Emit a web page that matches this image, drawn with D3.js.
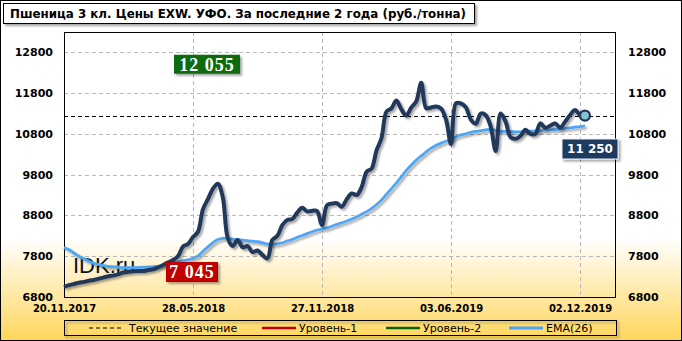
<!DOCTYPE html>
<html><head><meta charset="utf-8">
<script src="https://cdn.jsdelivr.net/npm/d3@7"></script>
<style>html,body{margin:0;padding:0;background:#fff}svg{display:block}</style>
</head><body>
<svg id="chart" width="682" height="341"></svg>
<script>
const title = "Пшеница 3 кл. Цены EXW. УФО. За последние 2 года (руб./тонна)";
const dateLabels = ["20.11.2017","28.05.2018","27.11.2018","03.06.2019","02.12.2019"];
const dateIndex = [0,26,52,78,104];
const yTicks = [6800,7800,8800,9800,10800,11800,12800];
const price = [7045,7090,7120,7150,7170,7200,7217,7250,7280,7310,7330,7360,7400,7420,7430,7440,7437,7460,7480,7530,
7585,7650,7707,7805,8040,8100,8270,8400,8950,9200,9450,9580,9250,8250,8050,8200,8020,8050,7900,7940,
7830,7745,8200,8300,8560,8690,8710,8870,8990,8900,8917,8910,8560,9050,9090,9100,9015,9200,9340,9300,
9500,9874,9950,10400,10700,11350,11430,11620,11400,11250,11450,11600,12055,11430,11450,11470,11420,11150,10550,11550,
11550,11450,11150,11050,11300,11260,10980,10380,11300,11100,10720,10680,10750,10900,10800,10800,11059,10950,11000,11059,
10950,11100,11264,11386,11264,11250];
const ema = [8010,7960,7880,7800,7740,7680,7625,7595,7570,7550,7540,7530,7522,7520,7522,7526,7530,7538,7546,7556,
7575,7605,7640,7665,7690,7712,7750,7810,7920,8030,8130,8210,8240,8232,8222,8205,8195,8180,8168,8155,
8130,8100,8095,8105,8130,8175,8215,8265,8310,8355,8400,8443,8470,8497,8535,8580,8620,8665,8715,8770,
8830,8893,8975,9070,9180,9320,9460,9600,9750,9905,10040,10160,10260,10360,10450,10520,10575,10620,10660,10730,
10775,10800,10840,10860,10880,10900,10910,10890,10870,10860,10855,10850,10852,10860,10865,10872,10880,10890,10900,10908,
10920,10935,10950,10965,10980,10995];
const level1 = 7045, level2 = 12055, current = 11250;
const legendItems = ["Текущее значение","Уровень-1","Уровень-2","EMA(26)"];

const svg = d3.select("#chart");
const W = 682, H = 341;
const P = {l:64, r:615, t:32, b:297};
const navy = "#22395a", blue = "#4ea6f5", green = "#056405", red = "#c00000";

const defs = svg.append("defs");
const bg = defs.append("linearGradient").attr("id","bg").attr("x1",0).attr("y1",0).attr("x2",0).attr("y2",1);
bg.append("stop").attr("offset","0").attr("stop-color","#ffffff");
bg.append("stop").attr("offset","0.7").attr("stop-color","#ffffff");
bg.append("stop").attr("offset","1").attr("stop-color","#ffd65c");
const sh = defs.append("filter").attr("id","sh").attr("x","-10%").attr("y","-20%").attr("width","130%").attr("height","160%");
sh.append("feDropShadow").attr("dx",2).attr("dy",2).attr("stdDeviation",1.2).attr("flood-color","#000").attr("flood-opacity",0.35);

svg.append("rect").attr("x",0.5).attr("y",0.5).attr("width",W-1).attr("height",H-1)
  .attr("fill","url(#bg)").attr("stroke","#000");

const x = d3.scaleLinear().domain([0,104]).range([64,580]);
const y = d3.scaleLinear().domain([6800,13300]).range([P.b,P.t]);

// grid
const grid = svg.append("g").attr("stroke","#b8b8b8").attr("stroke-dasharray","4,3").attr("stroke-width",1);
yTicks.filter(v=>v>6800).forEach(v=>{
  grid.append("line").attr("x1",P.l).attr("x2",P.r).attr("y1",Math.round(y(v))+0.5).attr("y2",Math.round(y(v))+0.5);
});
dateIndex.filter(i=>i>0).forEach(i=>{
  grid.append("line").attr("x1",Math.round(x(i))+0.5).attr("x2",Math.round(x(i))+0.5).attr("y1",P.t).attr("y2",P.b);
});

// plot border
svg.append("rect").attr("x",P.l+0.5).attr("y",P.t+0.5).attr("width",P.r-P.l).attr("height",P.b-P.t)
  .attr("fill","none").attr("stroke","#000");

// axes
const axL = d3.axisLeft(y).tickValues(yTicks).tickSize(0).tickPadding(0).tickFormat(d3.format("d"));
const axR = d3.axisRight(y).tickValues(yTicks).tickSize(0).tickPadding(0).tickFormat(d3.format("d"));
const gL = svg.append("g").attr("transform","translate(53,0)").call(axL);
const gR = svg.append("g").attr("transform","translate(628,0)").call(axR);
[gL,gR].forEach(g=>{
  g.select(".domain").remove();
  g.selectAll("text").attr("font-family","DejaVu Sans").attr("font-weight","bold").attr("font-size","11px").attr("fill","#000");
});
const axB = d3.axisBottom(x).tickValues(dateIndex).tickSize(0).tickPadding(0).tickFormat((d,i)=>dateLabels[i]);
const gB = svg.append("g").attr("transform","translate(0,305)").call(axB);
gB.select(".domain").remove();
gB.selectAll("text").attr("font-family","DejaVu Sans").attr("font-weight","bold").attr("font-size","10px").attr("fill","#000");

// level lines
svg.append("line").attr("x1",P.l+2).attr("x2",P.r-2).attr("y1",y(level2)).attr("y2",y(level2))
  .attr("stroke",green).attr("stroke-width",2).attr("filter","url(#sh)");
svg.append("line").attr("x1",P.l+2).attr("x2",P.r-2).attr("y1",y(level1)).attr("y2",y(level1))
  .attr("stroke",red).attr("stroke-width",2).attr("filter","url(#sh)");
// current value dashed
svg.append("line").attr("x1",P.l).attr("x2",P.r).attr("y1",Math.round(y(current))+0.5).attr("y2",Math.round(y(current))+0.5)
  .attr("stroke","#000").attr("stroke-width",1).attr("stroke-dasharray","4,3");

// watermark
svg.append("text").attr("x",73).attr("y",273).text("IDK.ru")
  .attr("font-family","Liberation Sans, Arial").attr("font-size","22px").attr("fill","#111");

// EMA
const line = d3.line().x((d,i)=>x(i)).y(d=>y(d)).curve(d3.curveCatmullRom.alpha(0.5));
svg.append("path").datum(ema).attr("d",line).attr("fill","none").attr("stroke",blue).attr("stroke-width",2.8)
  .attr("filter","url(#sh)");
// price
svg.append("path").datum(price).attr("d",line).attr("fill","none").attr("stroke",navy).attr("stroke-width",4)
  .attr("stroke-linejoin","round").attr("filter","url(#sh)");
// last marker
const li = price.length-1;
svg.append("circle").attr("cx",x(li)).attr("cy",y(price[li])).attr("r",5)
  .attr("fill","#86c3d3").attr("stroke",navy).attr("stroke-width",2.2);

// value boxes
function box(x0,y0,w,h,fill,txt,font,size,ls){
  const g = svg.append("g");
  g.append("rect").attr("x",x0).attr("y",y0).attr("width",w).attr("height",h).attr("fill",fill).attr("filter","url(#sh)");
  g.append("text").attr("x",x0+w/2).attr("y",y0+h/2).attr("dy","0.36em").attr("text-anchor","middle")
    .attr("font-family",font).attr("font-weight","bold").attr("font-size",size).attr("letter-spacing",ls)
    .attr("fill","#fff").text(txt);
  return g;
}
const fmt = v => d3.format(",")(v).replace(/,/g," ");
box(174, y(level2)-28, 66, 19, "#0b6a0b", fmt(level2), "Liberation Serif, Times New Roman", "18px", "1px");
box(166, y(level1)-25, 52, 20, "#c00000", fmt(level1), "Liberation Serif, Times New Roman", "18px", "1px");
const cb = box(562, 139, 56, 20, "#1d3a5e", fmt(current), "DejaVu Sans", "12px", "0px");
cb.select("rect").attr("stroke","#e8eef5").attr("stroke-width",1);

// title
svg.append("rect").attr("x",3.5).attr("y",3.5).attr("width",471).attr("height",20)
  .attr("fill","#fff").attr("stroke","#000").attr("filter","url(#sh)");
svg.append("text").attr("x",10).attr("y",18).text(title)
  .attr("font-family","DejaVu Sans").attr("font-weight","bold").attr("font-size","12.5px")
  .attr("textLength",456).attr("lengthAdjust","spacingAndGlyphs").attr("fill","#000");

// legend
svg.append("rect").attr("x",64.5).attr("y",320.5).attr("width",552).attr("height",15)
  .attr("fill","none").attr("stroke","#000").attr("filter","url(#sh)");
const legX = [89,262,386,509];
const legStyles = [
  {c:"#000",w:1,d:"4,3"},{c:red,w:2.5,d:null},{c:green,w:2.5,d:null},{c:blue,w:3,d:null}];
legendItems.forEach((t,i)=>{
  const l = svg.append("line").attr("x1",legX[i]).attr("x2",legX[i]+34).attr("y1",328).attr("y2",328)
    .attr("stroke",legStyles[i].c).attr("stroke-width",legStyles[i].w);
  if(legStyles[i].d) l.attr("stroke-dasharray",legStyles[i].d);
  svg.append("text").attr("x",legX[i]+(i===0?40:37)).attr("y",332).text(t)
    .attr("font-family","DejaVu Sans").attr("font-size","11px").attr("fill","#000");
});
</script>
</body></html>
